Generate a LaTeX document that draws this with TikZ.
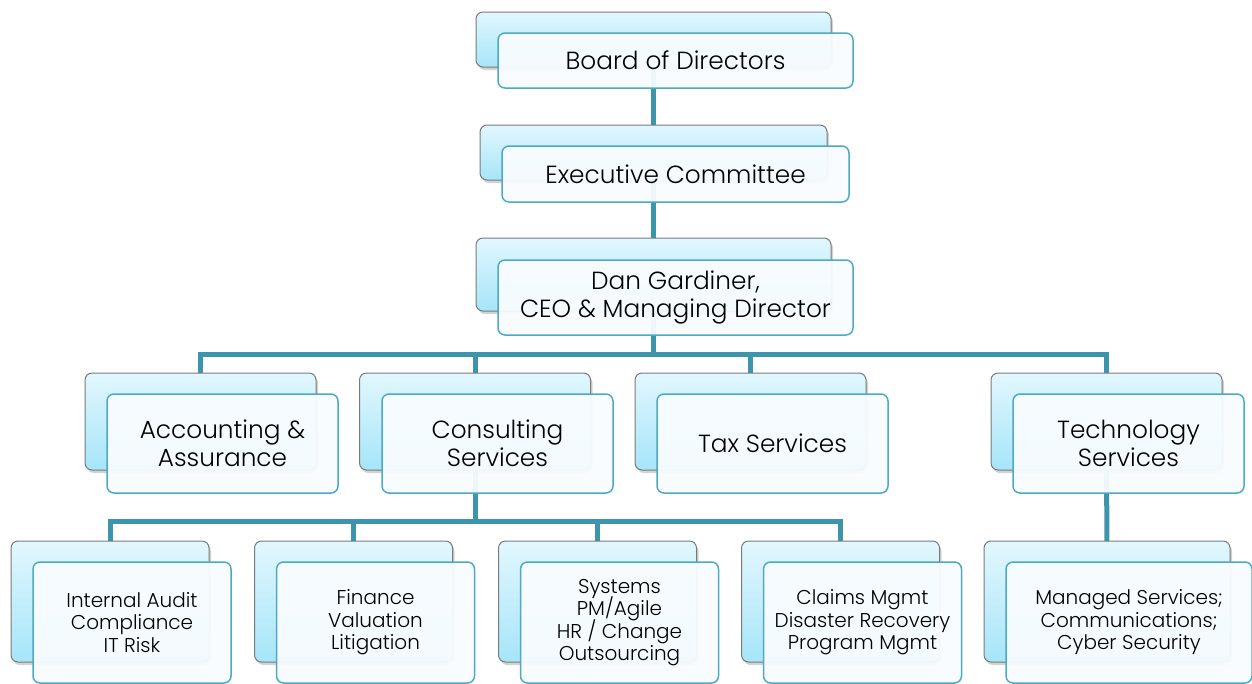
\documentclass[tikz,border=0pt]{standalone}
\usepackage{fontspec}
\setmainfont{Poppins}[UprightFont=* Light]
\usetikzlibrary{shadows,backgrounds}
\definecolor{conn}{HTML}{3C95AC}
\definecolor{frontdraw}{HTML}{4DAAC3}
\definecolor{frontfill}{HTML}{F8FCFF}
\definecolor{backtop}{HTML}{E2F7FE}
\definecolor{backbot}{HTML}{A6E5F9}
\definecolor{backdraw}{HTML}{7A7A7A}
\newcommand\mytightlines{\lineskiplimit=-30pt\relax}
\tikzset{
  backbox/.style={rectangle, rounded corners=7pt, draw=backdraw, line width=1pt,
    top color=backtop, bottom color=backbot, inner sep=0pt,
    drop shadow={opacity=0.35, shadow xshift=2pt, shadow yshift=-3pt}},
  frontbox/.style={rectangle, rounded corners=7pt, draw=frontdraw, line width=1.5pt,
    fill=frontfill, fill opacity=0.95, text opacity=1, inner sep=0pt, align=center},
  bigtext/.style={font=\fontsize{24.8}{28.5}\selectfont\mytightlines},
  smalltext/.style={font=\fontsize{20}{22.5}\selectfont\mytightlines},
  link/.style={draw=conn, line width=5pt}
}
\begin{document}
\begin{tikzpicture}[x=1pt,y=-1pt]
\useasboundingbox (0,0) rectangle (1252,683);
% level 0-1
\node[backbox, minimum width=355pt, minimum height=55pt] (bod_b) at (653.5,39.5) {};
\node[frontbox, bigtext, minimum width=355pt, minimum height=55pt] (bod) at (675.5,60.5) {Board of Directors};
\node[backbox, minimum width=347pt, minimum height=55pt] (exe_b) at (653.5,152.5) {};
\node[frontbox, bigtext, minimum width=347pt, minimum height=56pt] (exe) at (675.5,174) {Executive Committee};
\node[backbox, minimum width=355pt, minimum height=73pt] (ceo_b) at (653.5,274.5) {};
\node[frontbox, bigtext, minimum width=355pt, minimum height=75pt] (ceo) at (675.5,297.5) {Dan Gardiner,\\CEO \& Managing Director};
% level 2
\node[backbox, minimum width=231pt, minimum height=97pt] (acc_b) at (200.5,421.5) {};
\node[frontbox, bigtext, minimum width=231pt, minimum height=99pt] (acc) at (222.5,443.5) {Accounting \&\\Assurance};
\node[backbox, minimum width=231pt, minimum height=97pt] (con_b) at (475,421.5) {};
\node[frontbox, bigtext, minimum width=231pt, minimum height=99pt] (con) at (497.5,443.5) {Consulting\\Services};
\node[backbox, minimum width=231pt, minimum height=97pt] (tax_b) at (750.5,421.5) {};
\node[frontbox, bigtext, minimum width=231pt, minimum height=99pt] (tax) at (772.5,443.5) {Tax Services};
\node[backbox, minimum width=231pt, minimum height=97pt] (tec_b) at (1106.5,421.5) {};
\node[frontbox, bigtext, minimum width=231pt, minimum height=99pt] (tec) at (1128.5,443.5) {Technology\\Services};
% level 3
\node[backbox, minimum width=198pt, minimum height=121pt] (ia_b) at (110,601.5) {};
\node[frontbox, smalltext, minimum width=198pt, minimum height=121pt] (ia) at (132,622.5) {Internal Audit\\Compliance\\IT Risk};
\node[backbox, minimum width=198pt, minimum height=121pt] (fin_b) at (353.5,601.5) {};
\node[frontbox, smalltext, minimum width=198pt, minimum height=121pt] (fin) at (375.5,622.5) {Finance\\Valuation\\Litigation};
\node[backbox, minimum width=198pt, minimum height=121pt] (sys_b) at (597.5,601.5) {};
\node[frontbox, smalltext, minimum width=198pt, minimum height=121pt] (sys) at (619.5,622.5) {Systems\\PM/Agile\\HR / Change\\Outsourcing};
\node[backbox, minimum width=198pt, minimum height=121pt] (clm_b) at (840.5,601.5) {};
\node[frontbox, smalltext, minimum width=198pt, minimum height=121pt] (clm) at (862.5,622.5) {Claims Mgmt\\Disaster Recovery\\Program Mgmt};
\node[backbox, minimum width=246pt, minimum height=121pt] (mgd_b) at (1107,601.5) {};
\node[frontbox, smalltext, minimum width=246pt, minimum height=121pt] (mgd) at (1129,622.5) {Managed Services;\\Communications;\\Cyber Security};
% connectors
\coordinate (bus1) at (653.5,354);
\coordinate (bus2) at (475,521);
\begin{scope}[on background layer]
\fill[white] (0,0) rectangle (1252,683);
\draw[link] (bod_b.center) -- (exe_b.center);
\draw[link] (exe_b.center) -- (ceo_b.center);
\draw[link] (ceo_b.center) -- (bus1);
\draw[link] (acc_b.center) |- (bus1) -| (tec_b.center);
\draw[link] (con_b.center) -- (con_b.center |- bus1);
\draw[link] (tax_b.center) -- (tax_b.center |- bus1);
\draw[link] (con_b.center) -- (bus2);
\draw[link] (ia_b.center) |- (bus2) -| (clm_b.center);
\draw[link] (fin_b.center) -- (fin_b.center |- bus2);
\draw[link] (sys_b.center) -- (sys_b.center |- bus2);
\draw[link] (tec_b.center) -- (mgd_b.center);
\end{scope}
\end{tikzpicture}
\end{document}
